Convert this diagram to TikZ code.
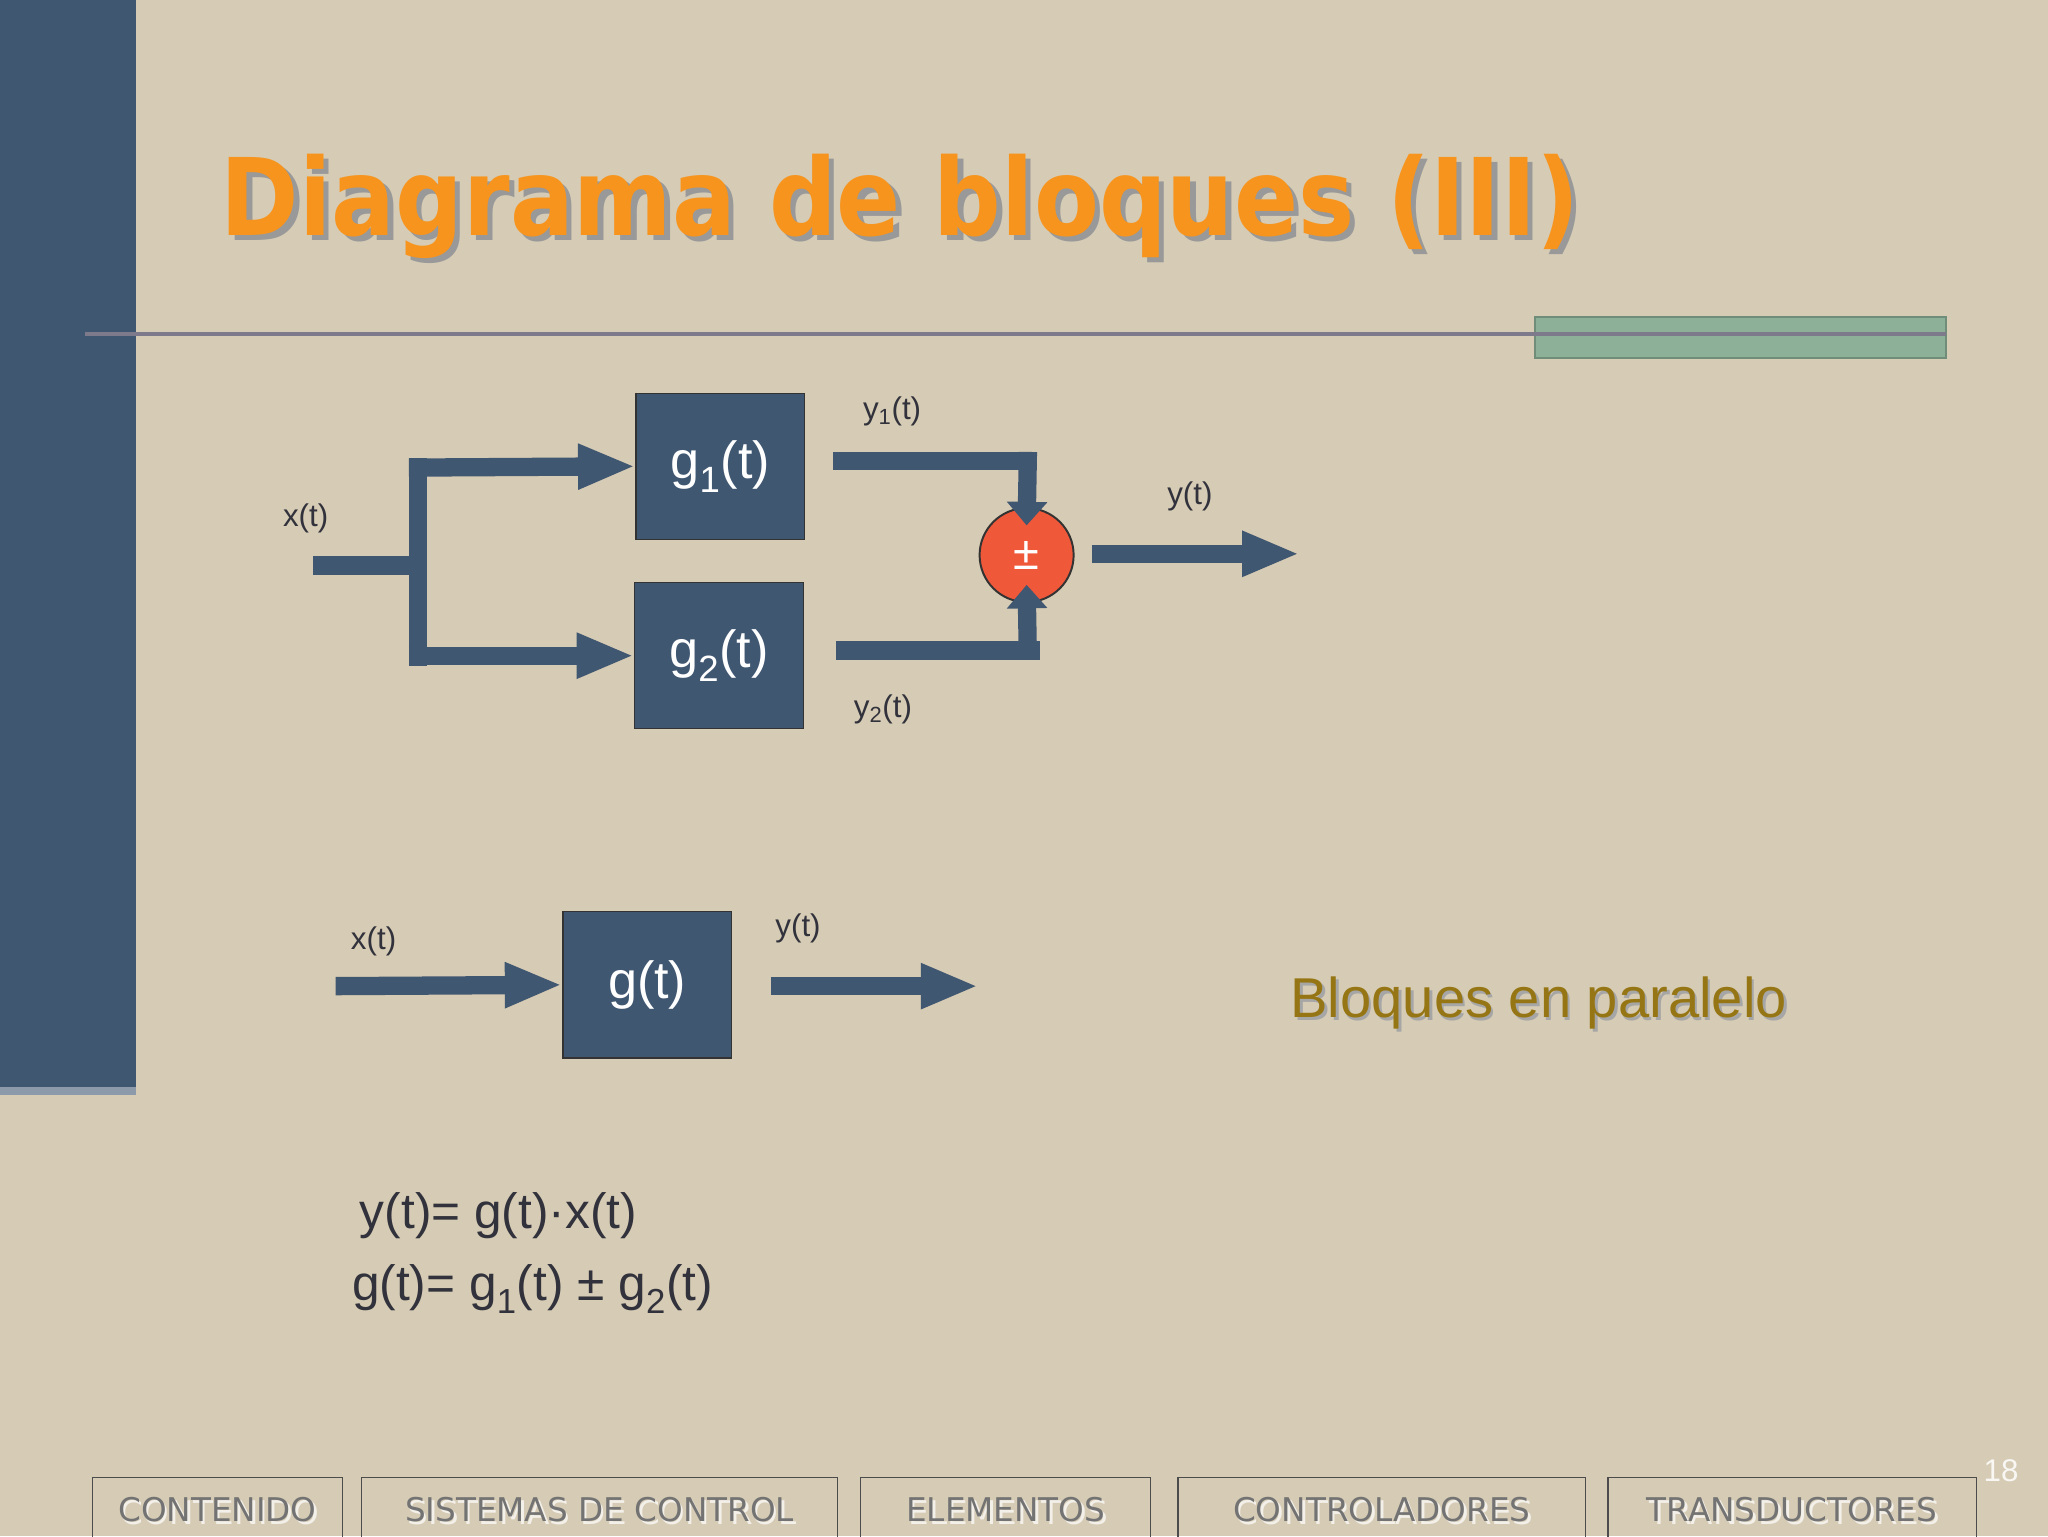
\documentclass[tikz,border=0pt]{standalone}
\usepackage{fontspec}
\setmainfont{Liberation Sans}
\newfontfamily\verd{DejaVu Sans}
\usetikzlibrary{arrows.meta}
\definecolor{bg}{RGB}{214,203,180}
\definecolor{slate}{RGB}{64,87,114}
\definecolor{ttl}{RGB}{247,148,29}
\definecolor{lin}{RGB}{125,122,140}
\definecolor{grn}{RGB}{140,176,152}
\definecolor{sumc}{RGB}{240,88,58}
\definecolor{gold}{RGB}{150,118,20}
\definecolor{txt}{RGB}{50,50,60}
\tikzset{
 blk/.style={draw=black!80,line width=1pt,fill=slate,minimum width=129pt,minimum height=112pt,text=white,font=\fontsize{40}{44}\selectfont},
 sig/.style={draw=slate,line width=14pt},
 arr/.style={sig,-{Triangle[length=44pt,width=32pt]}},
 sarr/.style={sig,-{Triangle[length=18pt,width=30pt]}},
 lab/.style={text=txt,font=\fontsize{24}{28}\selectfont},
 btxt/.style={text=black!55,font=\verd\fontsize{25}{28}\selectfont},
}
\begin{document}
\begin{tikzpicture}[x=1pt,y=-1pt]
\useasboundingbox (0,0) rectangle (1568,1176);
\fill[bg] (0,0) rectangle (1568,1176);
\fill[slate] (0,0) rectangle (104,836);
\fill[slate!60] (0,832) rectangle (104,838);
\node[anchor=base west,inner sep=0pt,text=black!40,font=\verd\bfseries\fontsize{82}{90}\selectfont] at (173,184) {\scalebox{0.883}[1]{Diagrama de bloques (III)}};
\node (title) [anchor=base west,inner sep=0pt,text=ttl,font=\verd\bfseries\fontsize{82}{90}\selectfont] at (169,180) {\scalebox{0.883}[1]{Diagrama de bloques (III)}};
\draw[draw=grn!80!black,fill=grn,line width=1.5pt] (1175,243) rectangle (1490,274);
\draw[lin,line width=3pt] (65,256) -- (1490,256);
% blocks
\node[blk] (g1) at (551.5,357) {g\textsubscript{1}(t)};
\node[blk] (g2) at (550.5,502) {g\textsubscript{2}(t)};
\node[draw=black!80,line width=1.5pt,fill=sumc,circle,minimum size=72pt,text=white,font=\fontsize{36}{40}\selectfont] (s) at (786,425) {±};
% input
\coordinate (xin) at (240,433);
\coordinate (br) at (320,433);
\draw[sig] (xin) -- (br);
\draw[sig] (320,351) -- (320,510);
\draw[arr] (313,358) -- (g1.west);
\draw[arr] (313,502) -- (g2.west);
\draw[sig] (638,353) -- (794,353);
\draw[sarr] (787,346) -- ([yshift=-14pt]s.north);
\draw[sig] (640,498) -- (796,498);
\draw[sarr] (787,505) -- ([yshift=14pt]s.south);
\coordinate (yout) at (995,424);
\draw[arr] (836,424) -- (yout);
\node[lab] at (234,397) {x(t)};
\node[lab] at (683,315) {y\textsubscript{1}(t)};
\node[lab] at (911,380) {y(t)};
\node[lab] at (676,543) {y\textsubscript{2}(t)};
% single block
\node[blk] (g) at (495.5,754) {g(t)};
\coordinate (x2) at (257,755);
\coordinate (y2) at (749,755);
\draw[arr] (x2) -- (g.west);
\draw[arr] (590,755) -- (y2);
\node[lab] at (286,721) {x(t)};
\node[lab] at (611,711) {y(t)};
\node[text=black!35,font=\fontsize{43}{46}\selectfont] at (1180,770) {Bloques en paralelo};
\node (bp) [text=gold,font=\fontsize{43}{46}\selectfont] at (1178,768) {Bloques en paralelo};
\node[lab,anchor=west,font=\fontsize{38}{44}\selectfont] (e1) at (272,931) {y(t)= g(t)·x(t)};
\node[lab,anchor=west,font=\fontsize{38}{44}\selectfont] (e2) at (266,987) {g(t)= g\textsubscript{1}(t) ± g\textsubscript{2}(t)};
% buttons
\foreach \a/\b/\t in {71/262/CONTENIDO,277/641/SISTEMAS DE CONTROL,659/881/ELEMENTOS,902/1214/CONTROLADORES,1231/1513/TRANSDUCTORES}{
 \draw[black!70,line width=1pt] (\a,1190) -- (\a,1131) -- (\b,1131) -- (\b,1190);
 \node[btxt,text=white!70!bg] at ({(\a+\b)/2+2},1158) {\t};
 \node[btxt] at ({(\a+\b)/2},1156) {\t};
}
\node[text=white!85!bg,font=\fontsize{24}{28}\selectfont] (pg) at (1532,1126) {18};
\end{tikzpicture}
\end{document}
